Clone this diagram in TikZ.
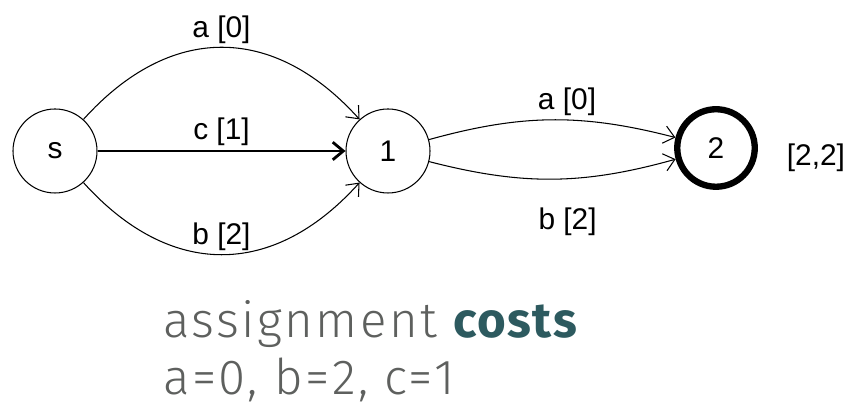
\documentclass[tikz,border=0pt]{standalone}
\usepackage{fontspec}
\setmainfont{Liberation Sans}
\newfontfamily\capfont{Fira Sans Light}[LetterSpace=5]
\newfontfamily\capbold{Fira Sans}[LetterSpace=3]
\usepackage{tikz}
\usetikzlibrary{arrows.meta,positioning}
\definecolor{capgray}{HTML}{5E605E}
\definecolor{capteal}{HTML}{2D5A5F}

\begin{document}
\begin{tikzpicture}[
    state/.style={draw, circle, line width=0.6pt, minimum size=1.68cm, inner sep=0pt, font=\fontsize{17}{20}\selectfont},
    final/.style={state, line width=3.6pt, minimum size=1.55cm},
    trans/.style={-{Straight Barb[length=6pt,width=10pt]}, line width=0.6pt},
    lbl/.style={font=\fontsize{17}{20}\selectfont, inner sep=2pt},
    captext/.style={font=\capfont\fontsize{28}{32}\selectfont, text=capgray, inner sep=0pt}
]
\useasboundingbox (0,0) rectangle (16.9,8.24);

% --- states ---
\node[state] (s)  at (1.1, 5.22)  {s};
\node[state] (q1) at (7.76, 5.22) {1};
\node[final] (q2) at (14.32, 5.28) {2};
\node[lbl, anchor=west] (w2) at (15.66, 5.08) {[2,2]};

% --- transitions s -> 1 ---
\draw[trans] (s) to[bend left=48, looseness=1.2] node[lbl, above] {a [0]} (q1);
\draw[trans, line width=1.6pt] (s) -- node[lbl, above] {c [1]} (q1);
\draw[trans] (s) to[bend right=48, looseness=1.2] node[lbl, above] {b [2]} (q1);

% --- transitions 1 -> 2 ---
\draw[trans] (q1) to[bend left=15] node[lbl, above, xshift=0.3cm] {a [0]} (q2);
\draw[trans] (q1) to[bend right=15] node[lbl, below=0.5cm, xshift=0.3cm] {b [2]} (q2);

% --- caption ---
\node[captext, anchor=base west] (c1) at (3.26, 1.48) {assignment {\capbold\bfseries\color{capteal}costs}};
\node[captext, anchor=base west] (c2) at (3.26, 0.34) {a=0, b=2, c=1};
\end{tikzpicture}
\end{document}
